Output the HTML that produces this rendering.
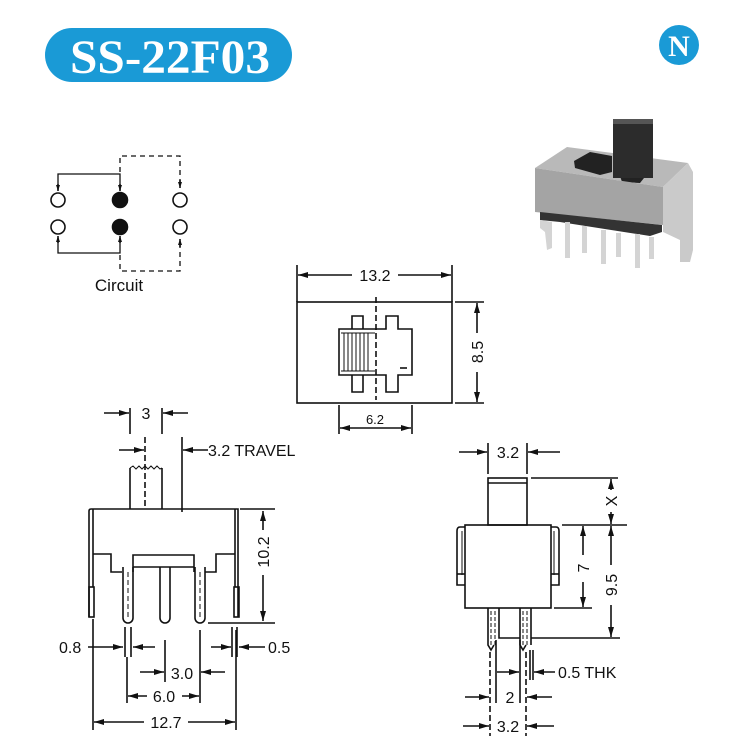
<!DOCTYPE html>
<html><head><meta charset="utf-8"><style>
html,body{margin:0;padding:0;background:#fff;}
svg{display:block}
text{font-family:"Liberation Sans",Arial,sans-serif;fill:#111}
</style></head><body>
<svg width="735" height="744" viewBox="0 0 735 744" xmlns="http://www.w3.org/2000/svg">
<defs>
<marker id="a" viewBox="0 0 10 6" refX="10" refY="3" markerWidth="10" markerHeight="6" orient="auto" markerUnits="userSpaceOnUse"><path d="M0,0 L10,3 L0,6 Z" fill="#111"/></marker>
<marker id="s" viewBox="0 0 6 4" refX="6" refY="2" markerWidth="6" markerHeight="4" orient="auto" markerUnits="userSpaceOnUse"><path d="M0,0 L6,2 L0,4 Z" fill="#111"/></marker>
</defs>
<!-- title -->
<rect x="45" y="28" width="247" height="54" rx="27" fill="#1a9ad6"/>
<text x="70" y="73" textLength="200" lengthAdjust="spacingAndGlyphs" style="font-family:'Liberation Serif',serif;font-weight:bold;font-size:48px;fill:#fff">SS-22F03</text>
<!-- N logo -->
<circle cx="679" cy="45" r="20" fill="#1a9ad6"/>
<text x="679" y="56" text-anchor="middle" style="font-family:'Liberation Serif',serif;font-weight:bold;font-size:30px;fill:#fff">N</text>

<g stroke="#111" stroke-width="1.6" fill="none">
<!-- circuit -->
<circle cx="58" cy="200" r="7"/><circle cx="58" cy="227" r="7"/>
<circle cx="180" cy="200" r="7"/><circle cx="180" cy="227" r="7"/>
<circle cx="120" cy="200" r="7.5" fill="#111"/><circle cx="120" cy="227" r="7.5" fill="#111"/>
<path d="M58,190 V174 H120 V190" stroke-width="1.3"/>
<path d="M58,238 V253 H120 V238" stroke-width="1.3"/>
<line x1="58" y1="184" x2="58" y2="191" marker-end="url(#s)"/>
<line x1="120" y1="184" x2="120" y2="191" marker-end="url(#s)"/>
<line x1="58" y1="243" x2="58" y2="236" marker-end="url(#s)"/>
<line x1="120" y1="243" x2="120" y2="236" marker-end="url(#s)"/>
<path d="M120,172 V156 H180 V184" stroke-dasharray="5,4" stroke-width="1.3"/>
<path d="M120,255 V271 H180 V243" stroke-dasharray="5,4" stroke-width="1.3"/>
<line x1="180" y1="180" x2="180" y2="188" marker-end="url(#s)"/>
<line x1="180" y1="247" x2="180" y2="239" marker-end="url(#s)"/>

<!-- top view -->
<rect x="297" y="302" width="155" height="101"/>
<line x1="297" y1="265" x2="297" y2="302"/><line x1="452" y1="265" x2="452" y2="302"/>
<line x1="352" y1="275" x2="298" y2="275" marker-end="url(#a)"/>
<line x1="398" y1="275" x2="451" y2="275" marker-end="url(#a)"/>
<line x1="455" y1="302" x2="484" y2="302"/><line x1="455" y1="403" x2="484" y2="403"/>
<line x1="477" y1="333" x2="477" y2="303" marker-end="url(#a)"/>
<line x1="477" y1="372" x2="477" y2="402" marker-end="url(#a)"/>
<line x1="339" y1="405" x2="339" y2="434"/><line x1="412" y1="405" x2="412" y2="434"/>
<line x1="375" y1="428" x2="340" y2="428" marker-end="url(#a)"/>
<line x1="375" y1="428" x2="411" y2="428" marker-end="url(#a)"/>
<path d="M376,329 H339 V375 H376" />
<path d="M352,329 V316 H363 V329 M352,375 V392 H363 V375"/>
<path d="M376,329 H386 V316 H398 V329 H412 V375 H398 V392 H386 V375 H376"/>
<line x1="376" y1="297" x2="376" y2="400" stroke-dasharray="6,3"/>
<path d="M341,333 H375 M341,371 H375 M344,333 V371 M348,333 V371 M352,333 V371 M356,333 V371 M360,333 V371 M364,333 V371 M368,333 V371" stroke-width="1"/>
<line x1="400" y1="368" x2="407" y2="368"/>

<!-- side view -->
<path d="M130,509 V468 M162,509 V468"/>
<path d="M130,468 l3,-2 l3,3 l3,-3 l3,3 l3,-3 l3,3 l3,-3 l3,3 l3,-3 l3,3 l2,-1" stroke-width="1"/>
<line x1="145" y1="437" x2="145" y2="509" stroke-dasharray="6,3"/>
<line x1="182" y1="437" x2="182" y2="512"/>
<line x1="130" y1="408" x2="130" y2="434"/><line x1="162" y1="408" x2="162" y2="434"/>
<line x1="104" y1="413" x2="129" y2="413" marker-end="url(#a)"/>
<line x1="188" y1="413" x2="163" y2="413" marker-end="url(#a)"/>
<line x1="119" y1="450" x2="144" y2="450" marker-end="url(#a)"/>
<line x1="208" y1="450" x2="183" y2="450" marker-end="url(#a)"/>
<path d="M89,617 V511 Q89,509 91,509 H238 V617"/>
<line x1="93" y1="509" x2="93" y2="587"/><line x1="235" y1="509" x2="235" y2="587"/>
<rect x="89" y="587" width="5" height="30"/><rect x="234" y="587" width="5" height="30"/>
<path d="M93,554 H111 V572 H122 M133,572 V555 H194 V572 M205,572 H216 V554 H235"/>
<line x1="133" y1="567" x2="194" y2="567"/>
<path d="M123,567 V618 A5,5 0 0 0 133,618 V567"/>
<path d="M160,567 V618 A5,5 0 0 0 170,618 V567"/>
<path d="M195,567 V618 A5,5 0 0 0 205,618 V567"/>
<line x1="128" y1="572" x2="128" y2="620" stroke-dasharray="5,3" stroke-width="1"/>
<line x1="200" y1="572" x2="200" y2="620" stroke-dasharray="5,3" stroke-width="1"/>
<line x1="240" y1="509" x2="275" y2="509"/>
<line x1="208" y1="623" x2="275" y2="623"/>
<line x1="263" y1="530" x2="263" y2="511" marker-end="url(#a)"/>
<line x1="263" y1="575" x2="263" y2="621" marker-end="url(#a)"/>
<line x1="125" y1="627" x2="125" y2="657"/><line x1="131" y1="627" x2="131" y2="657"/>
<line x1="88" y1="647" x2="123" y2="647" marker-end="url(#a)"/>
<line x1="155" y1="647" x2="133" y2="647" marker-end="url(#a)"/>
<line x1="232" y1="627" x2="232" y2="657"/><line x1="237" y1="627" x2="237" y2="657"/>
<line x1="211" y1="647" x2="231" y2="647" marker-end="url(#a)"/>
<line x1="265" y1="647" x2="239" y2="647" marker-end="url(#a)"/>
<line x1="165" y1="640" x2="165" y2="682"/>
<line x1="140" y1="672" x2="164" y2="672" marker-end="url(#a)"/>
<line x1="225" y1="672" x2="201" y2="672" marker-end="url(#a)"/>
<line x1="127" y1="657" x2="127" y2="703"/>
<line x1="200" y1="630" x2="200" y2="703"/>
<line x1="147" y1="696" x2="128" y2="696" marker-end="url(#a)"/>
<line x1="182" y1="696" x2="199" y2="696" marker-end="url(#a)"/>
<line x1="93" y1="619" x2="93" y2="730"/><line x1="236" y1="630" x2="236" y2="730"/>
<line x1="144" y1="722" x2="94" y2="722" marker-end="url(#a)"/>
<line x1="188" y1="722" x2="235" y2="722" marker-end="url(#a)"/>

<!-- front view -->
<rect x="488" y="478" width="39" height="47"/>
<line x1="488" y1="483" x2="527" y2="483"/>
<rect x="465" y="525" width="86" height="83"/>
<path d="M465,527 H460 Q457,527 457,531 V585 H465 M551,527 H556 Q559,527 559,531 V585 H551"/>
<line x1="462" y1="531" x2="462" y2="575" stroke-width="1"/><line x1="554" y1="531" x2="554" y2="575" stroke-width="1"/>
<line x1="457" y1="574" x2="465" y2="574"/><line x1="551" y1="574" x2="559" y2="574"/>
<path d="M488,608 V645 L491,650 L494,645 M499,608 V638 H520 V608 M520,638 V645 L523,650 L526,645 M531,608 V645"/>
<line x1="491" y1="611" x2="491" y2="645" stroke-dasharray="4,2" stroke-width="1"/>
<line x1="495" y1="611" x2="495" y2="645" stroke-dasharray="4,2" stroke-width="1"/>
<line x1="523" y1="611" x2="523" y2="645" stroke-dasharray="4,2" stroke-width="1"/>
<line x1="527" y1="611" x2="527" y2="645" stroke-dasharray="4,2" stroke-width="1"/>
<line x1="490" y1="652" x2="490" y2="736" stroke-dasharray="6,3"/>
<line x1="526" y1="652" x2="526" y2="736" stroke-dasharray="6,3"/>
<line x1="496" y1="640" x2="496" y2="703"/><line x1="520" y1="640" x2="520" y2="703"/>
<line x1="530" y1="650" x2="530" y2="680"/><line x1="533" y1="650" x2="533" y2="680"/>
<line x1="488" y1="443" x2="488" y2="474"/><line x1="527" y1="443" x2="527" y2="474"/>
<line x1="459" y1="452" x2="487" y2="452" marker-end="url(#a)"/>
<line x1="560" y1="452" x2="528" y2="452" marker-end="url(#a)"/>
<line x1="531" y1="478" x2="618" y2="478"/>
<line x1="562" y1="525" x2="627" y2="525"/>
<line x1="554" y1="608" x2="592" y2="608"/>
<line x1="531" y1="638" x2="620" y2="638"/>
<line x1="611" y1="490" x2="611" y2="479" marker-end="url(#a)"/>
<line x1="611" y1="512" x2="611" y2="524" marker-end="url(#a)"/>
<line x1="583" y1="555" x2="583" y2="526" marker-end="url(#a)"/>
<line x1="583" y1="582" x2="583" y2="607" marker-end="url(#a)"/>
<line x1="611" y1="565" x2="611" y2="526" marker-end="url(#a)"/>
<line x1="611" y1="605" x2="611" y2="637" marker-end="url(#a)"/>
<line x1="497" y1="672" x2="519" y2="672" marker-end="url(#a)"/>
<line x1="555" y1="672" x2="534" y2="672" marker-end="url(#a)"/>
<line x1="465" y1="697" x2="489" y2="697" marker-end="url(#a)"/>
<line x1="552" y1="697" x2="527" y2="697" marker-end="url(#a)"/>
<line x1="463" y1="726" x2="489" y2="726" marker-end="url(#a)"/>
<line x1="554" y1="726" x2="527" y2="726" marker-end="url(#a)"/>
</g>

<!-- photo -->
<g>
<polygon points="535,168 567,147 688,163 663,187" fill="#b9b9b9"/>
<polygon points="574,161 590,152 612,156 612,172 600,175 575,168" fill="#222"/>
<polygon points="620,176 652,168 640,183 622,182" fill="#222"/>
<polygon points="535,168 663,187 663,225 535,212" fill="#a4a4a4"/>
<polygon points="663,187 688,163 693,172 693,250 690,262 680,262 680,240 663,232" fill="#cacaca"/>
<polygon points="540,212 662,225 662,232 650,236 560,222 540,220" fill="#333"/>
<rect x="613" y="122" width="40" height="56" fill="#2c2c2c"/>
<rect x="613" y="119" width="40" height="5" fill="#555"/>
<g fill="#d4d4d4">
<polygon points="540,220 552,222 552,248 547,250 545,232 540,228"/>
<rect x="565" y="222" width="5" height="36"/><rect x="582" y="226" width="5" height="27"/>
<rect x="601" y="230" width="5" height="34"/><rect x="616" y="233" width="5" height="24"/>
<rect x="635" y="234" width="5" height="34"/><rect x="649" y="237" width="5" height="22"/>
</g>
</g>

<!-- texts -->
<text x="119" y="291" text-anchor="middle" font-size="17">Circuit</text>
<text x="375" y="281" text-anchor="middle" font-size="16">13.2</text>
<text x="375" y="424" text-anchor="middle" font-size="13">6.2</text>
<text x="0" y="0" text-anchor="middle" font-size="16" transform="translate(483,352) rotate(-90)">8.5</text>
<text x="146" y="419" text-anchor="middle" font-size="16">3</text>
<text x="208" y="456" font-size="16">3.2 TRAVEL</text>
<text x="0" y="0" text-anchor="middle" font-size="16" transform="translate(269,552) rotate(-90)">10.2</text>
<text x="59" y="653" font-size="16">0.8</text>
<text x="268" y="653" font-size="16">0.5</text>
<text x="182" y="679" text-anchor="middle" font-size="16">3.0</text>
<text x="164" y="702" text-anchor="middle" font-size="16">6.0</text>
<text x="166" y="728" text-anchor="middle" font-size="16">12.7</text>
<text x="508" y="458" text-anchor="middle" font-size="16">3.2</text>
<text x="0" y="0" text-anchor="middle" font-size="16" transform="translate(617,501) rotate(-90)">X</text>
<text x="0" y="0" text-anchor="middle" font-size="16" transform="translate(589,568) rotate(-90)">7</text>
<text x="0" y="0" text-anchor="middle" font-size="16" transform="translate(617,585) rotate(-90)">9.5</text>
<text x="558" y="678" font-size="16">0.5 THK</text>
<text x="510" y="703" text-anchor="middle" font-size="16">2</text>
<text x="508" y="732" text-anchor="middle" font-size="16">3.2</text>
</svg>
</body></html>
